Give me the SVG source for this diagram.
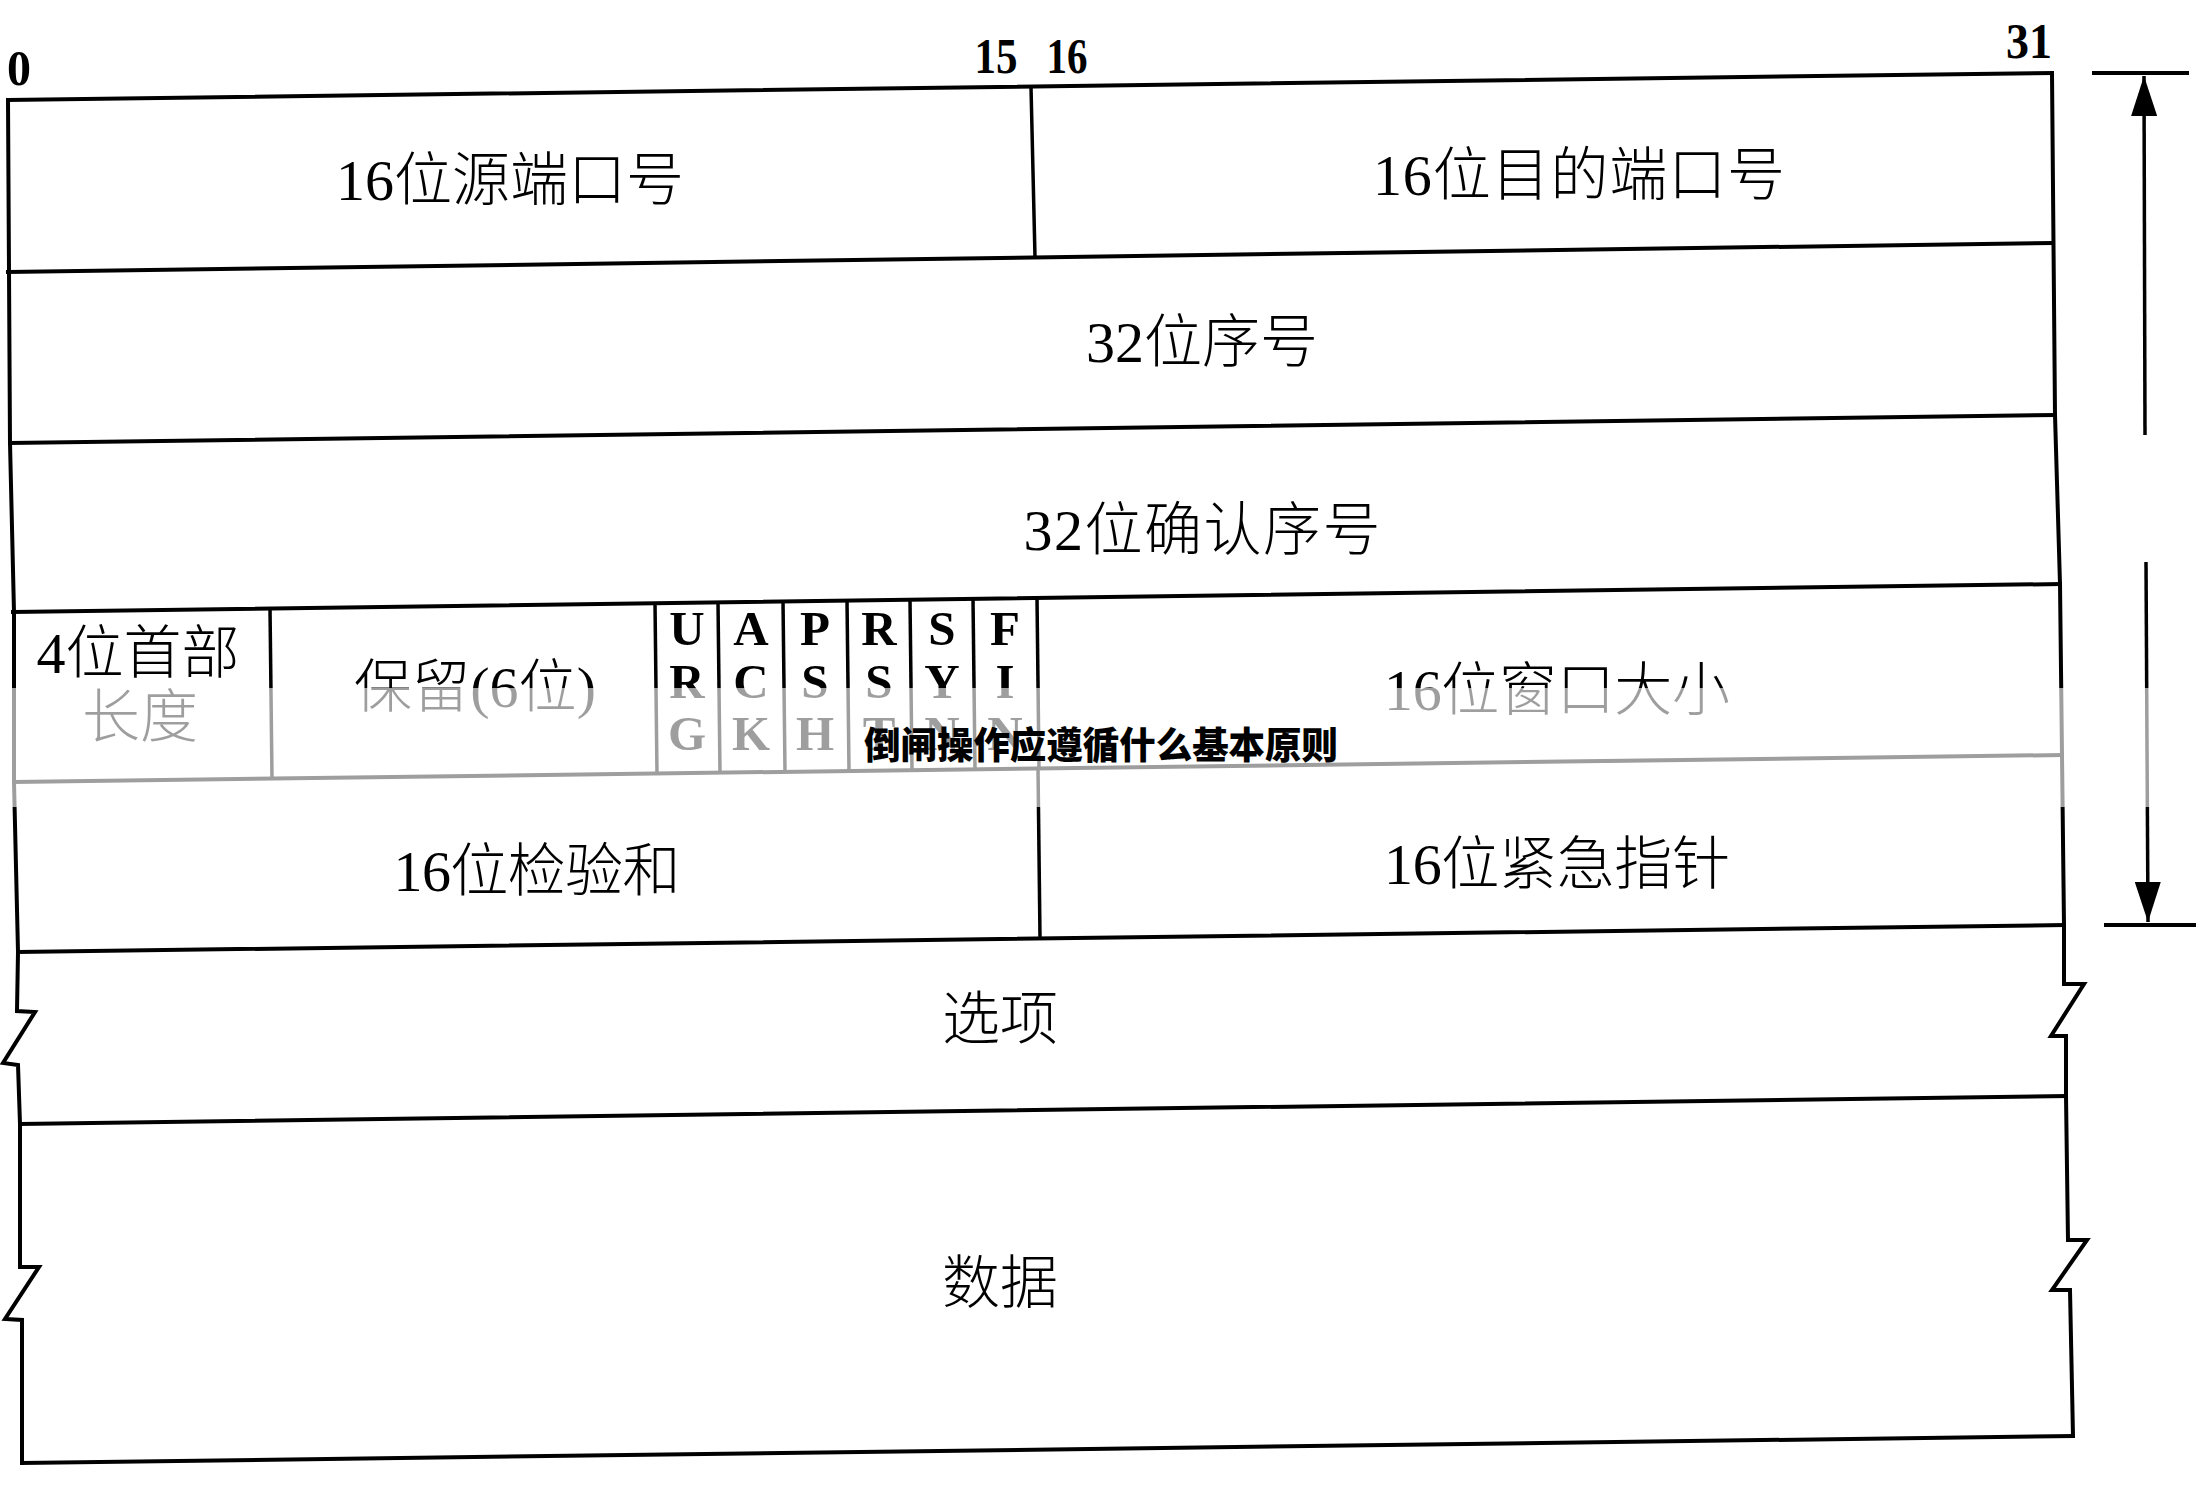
<svg xmlns="http://www.w3.org/2000/svg" width="2204" height="1495" viewBox="0 0 2204 1495">
<style>
.ln{stroke:#000;stroke-width:4;fill:none;stroke-linecap:square;stroke-linejoin:miter}
.dv{stroke:#000;stroke-width:3.5;fill:none}
.f{font-family:"Liberation Serif","Noto Sans CJK SC",serif;fill:#000;text-anchor:middle}
.lab{font-size:58px;font-weight:300}
.bit{font-family:"Liberation Serif",serif;font-weight:bold;font-size:50px;fill:#000;text-anchor:middle}
.flag{font-family:"Liberation Serif",serif;font-weight:bold;font-size:49px;fill:#000;text-anchor:middle}
.wm{font-family:"Noto Sans CJK SC",sans-serif;font-weight:900;font-size:37px;fill:#000}
.ar{stroke:#000;stroke-width:3.5;fill:none}
</style>
<defs>
<marker id="ah" viewBox="0 0 40 26" refX="40" refY="13" markerWidth="40" markerHeight="26" markerUnits="userSpaceOnUse" orient="auto">
<path d="M0,0 L40,13 L0,26 Z" fill="#000"/>
</marker>
</defs>
<rect width="2204" height="1495" fill="#fff"/>

<g id="bit-numbers">
<text class="bit" x="19" y="85" textLength="24" lengthAdjust="spacingAndGlyphs">0</text>
<text class="bit" x="996" y="73" textLength="43" lengthAdjust="spacingAndGlyphs">15</text>
<text class="bit" x="1067" y="73" textLength="41" lengthAdjust="spacingAndGlyphs">16</text>
<text class="bit" x="2029" y="58" textLength="46" lengthAdjust="spacingAndGlyphs">31</text>
</g>

<g id="grid">
<polyline class="ln" points="8,100 10,443 14,612 14,782 18,952 17,1011 35,1012 3,1063 18,1065 20,1124 20,1267 39,1267 5,1319 22,1320 22,1463"/>
<polyline class="ln" points="2052,73 2055,415 2060,584 2062,755 2064,925 2064,984 2084,984 2051,1036 2066,1036 2066,1096 2068,1240 2087,1240 2052,1290 2070,1290 2073,1436"/>
<line class="ln" x1="8" y1="100" x2="2052" y2="73"/>
<line class="ln" x1="8" y1="272" x2="2052" y2="243"/>
<line class="ln" x1="10" y1="443" x2="2055" y2="415"/>
<line class="ln" x1="13" y1="612" x2="2060" y2="584"/>
<line class="ln" x1="14" y1="782" x2="2062" y2="755"/>
<line class="ln" x1="18" y1="952" x2="2064" y2="925"/>
<line class="ln" x1="20" y1="1124" x2="2066" y2="1096"/>
<line class="ln" x1="22" y1="1463" x2="2073" y2="1436"/>
<line class="dv" x1="1031" y1="87" x2="1035" y2="257"/>
<line class="dv" x1="270" y1="608" x2="272" y2="779"/>
<line class="dv" x1="655" y1="603" x2="657" y2="774"/>
<line class="dv" x1="718" y1="602" x2="720" y2="773"/>
<line class="dv" x1="783" y1="601" x2="785" y2="772"/>
<line class="dv" x1="847" y1="600" x2="849" y2="771"/>
<line class="dv" x1="910" y1="600" x2="912" y2="770"/>
<line class="dv" x1="973" y1="599" x2="975" y2="769"/>
<line class="dv" x1="1037" y1="598" x2="1039" y2="768"/>
<line class="dv" x1="1038" y1="768" x2="1040" y2="938"/>
</g>

<g id="src-port"><text class="f lab" x="510" y="200">16位源端口号</text></g>
<g id="dst-port"><text class="f lab" x="1579" y="195" textLength="412">16位目的端口号</text></g>
<g id="seq"><text class="f lab" x="1202" y="362">32位序号</text></g>
<g id="ack"><text class="f lab" x="1202" y="550" textLength="357">32位确认序号</text></g>
<g id="hdr-len">
<text class="f lab" x="138" y="673" textLength="203">4位首部</text>
<text class="f lab" x="140" y="737">长度</text>
</g>
<g id="reserved"><text class="f lab" x="475" y="707" textLength="242">保留(6位)</text></g>
<g id="flag-urg"><text class="flag" x="687" y="645">U</text><text class="flag" x="687" y="698">R</text><text class="flag" x="687" y="750">G</text></g>
<g id="flag-ack"><text class="flag" x="751" y="645">A</text><text class="flag" x="751" y="698">C</text><text class="flag" x="751" y="750">K</text></g>
<g id="flag-psh"><text class="flag" x="815" y="645">P</text><text class="flag" x="815" y="698">S</text><text class="flag" x="815" y="750">H</text></g>
<g id="flag-rst"><text class="flag" x="879" y="645">R</text><text class="flag" x="879" y="698">S</text><text class="flag" x="879" y="750">T</text></g>
<g id="flag-syn"><text class="flag" x="942" y="645">S</text><text class="flag" x="942" y="698">Y</text><text class="flag" x="942" y="750">N</text></g>
<g id="flag-fin"><text class="flag" x="1005" y="645">F</text><text class="flag" x="1005" y="698">I</text><text class="flag" x="1005" y="750">N</text></g>
<g id="window"><text class="f lab" x="1557" y="710" textLength="346">16位窗口大小</text></g>
<g id="checksum"><text class="f lab" x="537" y="891" textLength="287">16位检验和</text></g>
<g id="urgent"><text class="f lab" x="1557" y="884" textLength="346">16位紧急指针</text></g>
<g id="options"><text class="f lab" x="1000" y="1039">选项</text></g>
<g id="data"><text class="f lab" x="1000" y="1303">数据</text></g>

<g id="connectors">
<line class="ln" x1="2094" y1="73" x2="2187" y2="73"/>
<line class="ln" x1="2106" y1="925" x2="2194" y2="925"/>
<line class="ar" x1="2145" y1="435" x2="2144" y2="76" marker-end="url(#ah)"/>
<line class="ar" x1="2146" y1="562" x2="2148" y2="922" marker-end="url(#ah)"/>
</g>

<rect id="band" x="0" y="688" width="2204" height="119" fill="#fff" fill-opacity="0.62"/>
<g id="watermark"><text class="wm" x="864" y="759" textLength="474" lengthAdjust="spacingAndGlyphs">倒闸操作应遵循什么基本原则</text></g>
</svg>
